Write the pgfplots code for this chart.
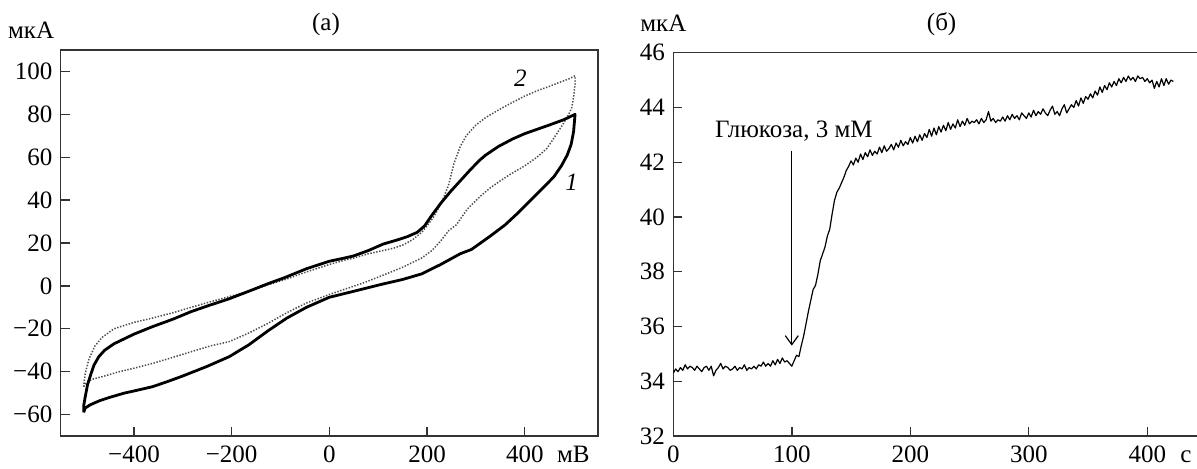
\documentclass[border=0pt]{standalone}
\usepackage{pgfplots}
\pgfplotsset{compat=1.18}
\usepackage{pgfplotstable}
\usepackage{fontspec}
\setmainfont{Liberation Serif}
\usetikzlibrary{arrows.meta}

% Cyclic voltammogram 1 (solid), one closed loop: forward then reverse scan
\pgfplotstableread{
x y
-503 -59
-500 -57
-490 -55.5
-470 -53.5
-450 -52
-420 -50
-400 -49
-362 -47
-330 -44.5
-300 -42
-250 -37.5
-205 -33
-165 -27.5
-126 -21
-87 -15
-47 -10
0 -5.3
50 -2.5
110 0.9
150 3
189 5.6
228 10
268 15
291 17
331 23.5
360 28.5
386 34
410 39.5
441 46.5
460 51
475 56
487 61
495 66
500 72
503 80
480 77.5
450 75
425 73
400 71
375 68.5
346 65
320 61
307 58.5
288 54
268 49
248 44
228 38.5
210 33
195 28
180 25
160 23
140 21.5
110 19.5
80 16.5
50 14
31 13
0 11.5
-47 8
-90 4
-126 1
-165 -2.5
-205 -6
-245 -9
-283 -12
-320 -15.5
-362 -19
-400 -22.5
-441 -27
-460 -30
-472 -33
-482 -37
-488 -41
-495 -46
-500 -52
-503 -56
-503 -59
}\cvone

% Cyclic voltammogram 2 (dotted)
\pgfplotstableread{
x y
-503 -47
-497 -45
-485 -43.5
-460 -42
-430 -40
-402 -38.5
-360 -36
-323 -33.5
-280 -30.5
-244 -28
-205 -26
-165 -22
-126 -17.5
-87 -12.5
-47 -8
0 -4
71 1.5
110 5
150 8.7
189 13
210 16.5
228 21
244 25.7
260 28.5
283 36
310 42
331 46
350 49
370 52
400 56
425 60
445 64
457 68
470 72.5
480 76
490 80
496 83
500 88
503 94
503 98
490 96.5
472 95
450 93
425 91
400 88.5
370 85
346 82
320 78.5
300 75
280 70
268 65
255 57
244 47
230 39
213 32
200 28
189 25
170 21.5
150 19
130 17.5
110 16.5
80 15
50 13
31 12
0 10
-47 6.5
-90 3
-126 0.5
-165 -2.5
-205 -5
-245 -7.5
-283 -10
-320 -12.5
-362 -15
-400 -17
-441 -20
-465 -24
-480 -28
-492 -34
-500 -41
-503 -47
}\cvtwo

% Current versus time, glucose added at 100 s
\pgfplotstableread{
t i
0 34.30
2 34.45
4 34.35
6 34.50
8 34.40
10 34.60
12 34.45
14 34.55
16 34.50
18 34.40
20 34.55
22 34.45
24 34.35
26 34.50
28 34.55
30 34.40
32 34.55
34 34.20
36 34.40
38 34.50
40 34.65
42 34.45
44 34.55
46 34.50
48 34.40
50 34.45
52 34.55
54 34.40
56 34.50
58 34.45
60 34.60
62 34.40
64 34.50
66 34.45
68 34.55
70 34.45
72 34.60
74 34.55
76 34.70
78 34.55
80 34.65
82 34.55
84 34.75
86 34.60
88 34.80
90 34.65
92 34.85
94 34.70
96 34.75
98 34.65
100 34.55
102 34.75
104 34.95
106 34.90
108 35.30
110 35.65
112 36.10
114 36.55
116 36.95
118 37.35
120 37.50
122 37.90
124 38.40
126 38.65
128 38.90
130 39.30
132 39.55
134 40.10
136 40.60
138 40.90
140 41.05
142 41.25
144 41.45
146 41.70
148 41.85
150 42.05
152 41.90
154 42.15
156 42.00
158 42.30
160 42.10
162 42.35
164 42.20
166 42.45
168 42.25
170 42.40
172 42.30
174 42.55
176 42.35
178 42.60
180 42.40
182 42.50
184 42.65
186 42.45
188 42.70
190 42.55
192 42.80
194 42.60
196 42.75
198 42.65
200 42.90
202 42.70
204 42.95
206 42.75
208 43.00
210 42.80
212 43.05
214 42.90
216 43.20
218 42.95
220 43.25
222 43.00
224 43.30
226 43.10
228 43.35
230 43.15
232 43.45
234 43.20
236 43.40
238 43.25
240 43.55
242 43.30
244 43.50
246 43.35
248 43.60
250 43.40
252 43.50
254 43.45
256 43.55
258 43.40
260 43.60
262 43.45
264 43.55
266 43.85
268 43.50
270 43.60
272 43.45
274 43.55
276 43.50
278 43.65
280 43.50
282 43.70
284 43.55
286 43.75
288 43.60
290 43.70
292 43.55
294 43.80
296 43.70
298 43.60
300 43.80
302 43.65
304 43.90
306 43.70
308 43.85
310 43.75
312 43.95
314 43.80
316 43.70
318 43.90
320 44.05
322 43.75
324 43.85
326 43.70
328 43.95
330 44.10
332 43.80
334 43.95
336 44.10
338 44.00
340 44.25
342 44.05
344 44.35
346 44.15
348 44.40
350 44.30
352 44.50
354 44.35
356 44.60
358 44.45
360 44.75
362 44.55
364 44.80
366 44.65
368 44.90
370 44.75
372 44.95
374 44.80
376 45.05
378 44.90
380 45.10
382 44.95
384 45.15
386 45.00
388 45.10
390 44.95
392 45.15
394 45.05
396 45.10
398 44.95
400 45.05
402 44.90
404 45.00
406 44.70
408 44.95
410 44.75
412 45.05
414 44.80
416 45.05
418 44.85
420 45.00
422 44.95
}\response

\pgfplotsset{
  panel/.style={
    scale only axis, anchor=south west,
    axis line style={black!80, line width=0.7pt},
    every tick/.style={black!80, line width=0.7pt},
    major tick length=4.5pt,
    tick pos=left,
    xticklabel style={anchor=north, inner sep=0pt, yshift=-4.6pt},
    yticklabel style={anchor=east, inner sep=0pt, xshift=-4pt},
    tick label style={font=\fontsize{12.5}{15}\selectfont},
    every axis plot/.append style={line join=round},
  }
}

\begin{document}
\begin{tikzpicture}
\useasboundingbox (0pt,0pt) rectangle (598.5pt,-234pt);
\tikzset{lbl/.style={font=\fontsize{12.5}{15}\selectfont, inner sep=0pt}}

% (а) cyclic voltammograms
\begin{axis}[panel,
  at={(30.35pt,-218pt)}, width=268.65pt, height=193pt,
  xmin=-550, xmax=550, ymin=-70, ymax=110,
  xtick={-400,-200,0,200,400},
  xticklabels={−400,−200,0,200,400},
  ytick={-60,-40,-20,0,20,40,60,80,100},
  yticklabels={−60,−40,−20,0,20,40,60,80,100},
]
\addplot[black!70, line width=0.75pt, dash pattern=on 0.7pt off 0.8pt] table[x=x,y=y] {\cvtwo};
\addplot[black, line width=1.4pt] table[x=x,y=y] {\cvone};
\node[lbl, font=\fontsize{12.5}{15}\selectfont\itshape] at (axis cs:496,48.5) {1};
\node[lbl, font=\fontsize{12.5}{15}\selectfont\itshape] at (axis cs:391,96.7) {2};
\end{axis}

% (б) current response to glucose
\begin{axis}[panel,
  at={(336.65pt,-218pt)}, width=266.6pt, height=191.65pt,
  xmin=0, xmax=450, ymin=32, ymax=46,
  xtick={0,100,200,300,400},
  xticklabels={0,100,200,300,400},
  ytick={32,34,36,38,40,42,44,46},
  yticklabels={32,34,36,38,40,42,44,46},
]
\addplot[black, line width=0.6pt] table[x=t,y=i] {\response};
\draw[black, line width=0.6pt, -{Straight Barb[length=4.5pt,width=6.5pt]}]
  (axis cs:100,42.42) -- (axis cs:100,35.3);
\node[lbl, anchor=base] at (axis cs:101.8,42.89) {Глюкоза, 3 мМ};
\end{axis}

% titles and units
\node[lbl, anchor=base] at (163pt,-15pt) {(а)};
\node[lbl, anchor=base] at (470.8pt,-15pt) {(б)};
\node[lbl, anchor=base west] at (3.85pt,-19pt) {мкА};
\node[lbl, anchor=base west] at (320pt,-15.85pt) {мкА};
\node[lbl, anchor=base] at (286.7pt,-231.2pt) {мВ};
\node[lbl, anchor=base] at (593pt,-231.2pt) {с};
\end{tikzpicture}
\end{document}
